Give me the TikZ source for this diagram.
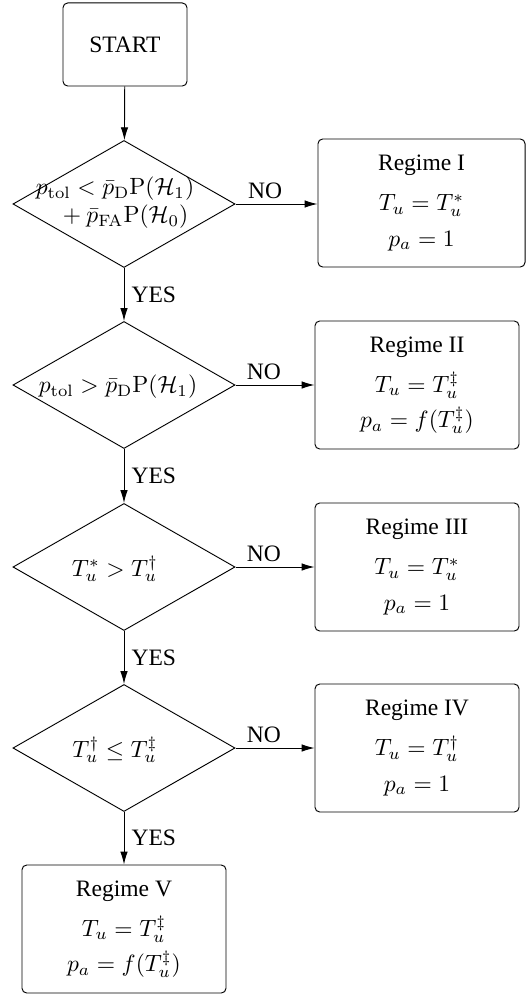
\documentclass[tikz,border=0pt]{standalone}
\usepackage[no-math]{fontspec}
\setmainfont{Liberation Serif}
\usetikzlibrary{shapes.geometric,arrows.meta}
\begin{document}
\begin{tikzpicture}[x=0.425pt,y=-0.425pt,
 box/.style={draw,rounded corners=2pt,align=center,inner sep=0pt,minimum width=86.7pt,minimum height=54.4pt},
 dia/.style={draw,diamond,inner sep=0pt,minimum width=94.4pt,minimum height=54pt},
 dtext/.style={align=center,inner sep=0pt},
 arr/.style={-{Latex[length=5.5pt,width=3.2pt]}},
 yes/.style={right,pos=0.5,inner sep=3pt},
 no/.style={above,pos=0.36,inner sep=2pt}]
\useasboundingbox (0,0) rectangle (529,999);
\node[box,minimum width=52.7pt,minimum height=35.3pt] (start) at (125,44.5) {START};
\node[dia] (d1) at (124,204) {};
\node[dia] (d2) at (124,385) {};
\node[dia] (d3) at (124,567) {};
\node[dia] (d4) at (124,748) {};
\node[dtext] (t1) at (115,189) {$p_{\mathrm{tol}}<\bar{p}_{\mathrm{D}}\mathrm{P}(\mathcal{H}_1)$};
\node[dtext] (t1b) at (123,217) {${}+\bar{p}_{\mathrm{FA}}\mathrm{P}(\mathcal{H}_0)$};
\node[dtext] (t2) at (118,387) {$p_{\mathrm{tol}}>\bar{p}_{\mathrm{D}}\mathrm{P}(\mathcal{H}_1)$};
\node[dtext] (t3) at (115,569) {$T_u^*>T_u^\dagger$};
\node[dtext] (t4) at (115,750) {$T_u^\dagger\leq T_u^\ddagger$};
\node[box,minimum width=88pt] (r1) at (421.5,203) {Regime I\\[5pt] $T_u=T_u^*$\\[3pt] $p_a=1$};
\node[box] (r2) at (417,385) {Regime II\\[5pt] $T_u=T_u^\ddagger$\\[3pt] $p_a=f(T_u^\ddagger)$};
\node[box] (r3) at (417,567) {Regime III\\[5pt] $T_u=T_u^*$\\[3pt] $p_a=1$};
\node[box] (r4) at (417,748) {Regime IV\\[5pt] $T_u=T_u^\dagger$\\[3pt] $p_a=1$};
\node[box] (r5) at (124,929) {Regime V\\[5pt] $T_u=T_u^\ddagger$\\[3pt] $p_a=f(T_u^\ddagger)$};
\draw[arr] (start) -- (d1);
\draw[arr] (d1) -- node[yes]{YES} (d2);
\draw[arr] (d2) -- node[yes]{YES} (d3);
\draw[arr] (d3) -- node[yes]{YES} (d4);
\draw[arr] (d4) -- node[yes]{YES} (r5);
\draw[arr] (d1.east) -- node[no]{NO} (r1.west |- d1.east);
\draw[arr] (d2.east) -- node[no]{NO} (r2.west |- d2.east);
\draw[arr] (d3.east) -- node[no]{NO} (r3.west |- d3.east);
\draw[arr] (d4.east) -- node[no]{NO} (r4.west |- d4.east);
\end{tikzpicture}
\end{document}
